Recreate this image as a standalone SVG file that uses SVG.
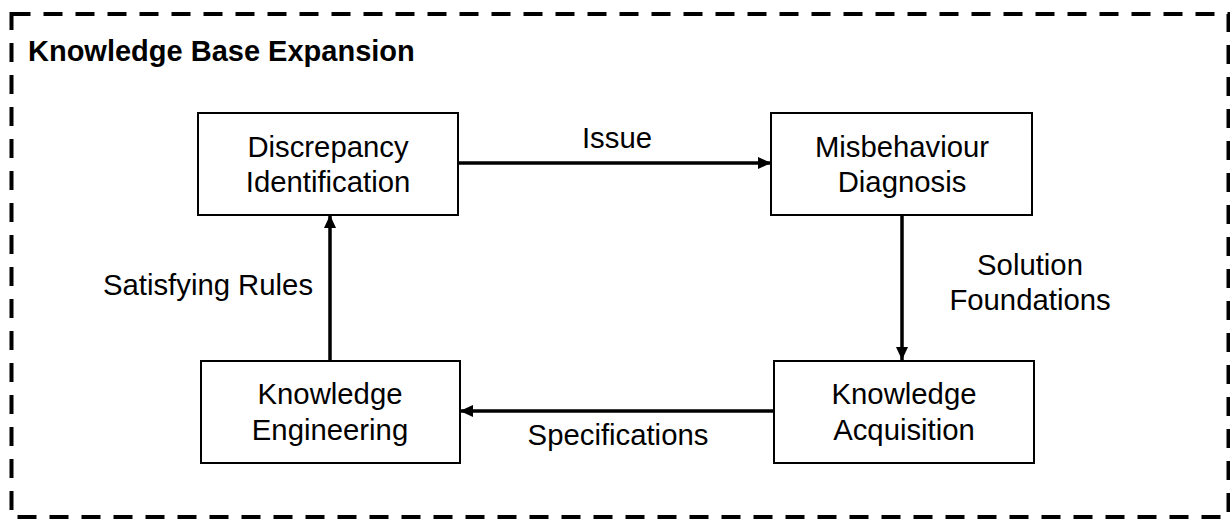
<svg xmlns="http://www.w3.org/2000/svg" width="1230" height="519" viewBox="0 0 1230 519">
  <style>
    .frame { fill: none; stroke: #000; stroke-width: 4; stroke-dasharray: 19 13; }
    .box { fill: #fff; stroke: #000; stroke-width: 2; }
    .label { font-family: "Liberation Sans", Arial, sans-serif; font-size: 29.3px; fill: #000; text-anchor: middle; }
    .title { font-family: "Liberation Sans", Arial, sans-serif; font-size: 29px; font-weight: bold; fill: #000; }
    .edge { fill: none; stroke: #000; stroke-width: 3.5; }
  </style>
  <defs>
    <marker id="arrow" viewBox="0 0 14 14" refX="14" refY="7" markerWidth="13" markerHeight="13" markerUnits="userSpaceOnUse" orient="auto">
      <path d="M0,0.5 L14,7 L0,13.5 Z" fill="#000"/>
    </marker>
  </defs>

  <rect width="1230" height="519" fill="#fff"/>

  <!-- dashed container -->
  <rect class="frame" x="11.5" y="14" width="1217" height="503"/>
  <text class="title" x="28" y="61">Knowledge Base Expansion</text>

  <!-- connectors -->
  <g id="connectors">
    <line class="edge" x1="458" y1="163" x2="771" y2="163" marker-end="url(#arrow)"/>
    <line class="edge" x1="902" y1="214" x2="902" y2="360" marker-end="url(#arrow)"/>
    <line class="edge" x1="774" y1="411" x2="460" y2="411" marker-end="url(#arrow)"/>
    <line class="edge" x1="330" y1="361" x2="330" y2="215" marker-end="url(#arrow)"/>
    <text class="label" x="617" y="148">Issue</text>
    <text class="label" x="1030" y="275">Solution</text>
    <text class="label" x="1030" y="310">Foundations</text>
    <text class="label" x="618" y="445">Specifications</text>
    <text class="label" x="208" y="295">Satisfying Rules</text>
  </g>

  <g id="discrepancy-identification">
    <rect class="box" x="198" y="113" width="260" height="102"/>
    <text class="label" x="328" y="157">Discrepancy</text>
    <text class="label" x="328" y="192">Identification</text>
  </g>

  <g id="misbehaviour-diagnosis">
    <rect class="box" x="771" y="113" width="261" height="102"/>
    <text class="label" x="902" y="157">Misbehaviour</text>
    <text class="label" x="902" y="192">Diagnosis</text>
  </g>

  <g id="knowledge-acquisition">
    <rect class="box" x="774" y="361" width="260" height="102"/>
    <text class="label" x="904" y="404">Knowledge</text>
    <text class="label" x="904" y="440">Acquisition</text>
  </g>

  <g id="knowledge-engineering">
    <rect class="box" x="201" y="361" width="259" height="102"/>
    <text class="label" x="330" y="404">Knowledge</text>
    <text class="label" x="330" y="440">Engineering</text>
  </g>
</svg>
